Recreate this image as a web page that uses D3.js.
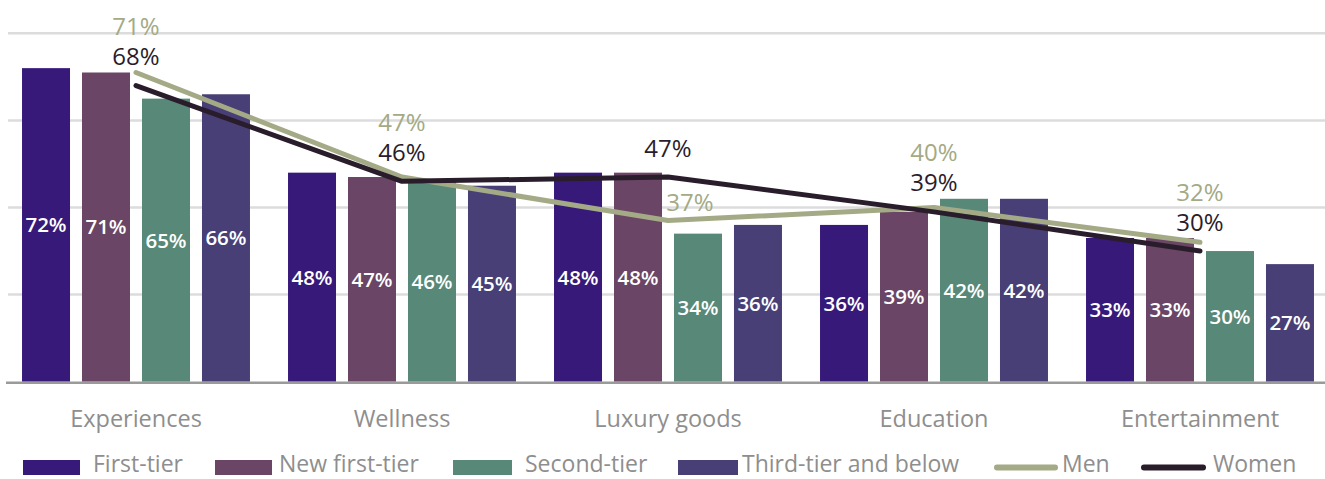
<!DOCTYPE html>
<html>
<head>
<meta charset="utf-8">
<script src="https://cdn.jsdelivr.net/npm/d3@7"></script>
<style>
  html, body { margin: 0; padding: 0; background: #ffffff; }
  svg { display: block; }
  text { font-family: "Open Sans", Lato, sans-serif; }
</style>
</head>
<body>
<svg id="chart" width="1325" height="479"></svg>
<script>
const categories = ["Experiences", "Wellness", "Luxury goods", "Education", "Entertainment"];
const seriesNames = ["First-tier", "New first-tier", "Second-tier", "Third-tier and below"];
const firstTier = [72, 48, 48, 36, 33];
const newFirstTier = [71, 47, 48, 39, 33];
const secondTier = [65, 46, 34, 42, 30];
const thirdTier = [66, 45, 36, 42, 27];
const men = [71, 47, 37, 40, 32];
const women = [68, 46, 47, 39, 30];
const yTicks = [0, 20, 40, 60, 80];

const barColors = ["#37197a", "#6a4565", "#578878", "#483f77"];
const menColor = "#a3aa85";
const womenColor = "#2a1d2b";
const textGray = "#8e8e8e";

const seriesValues = [firstTier, newFirstTier, secondTier, thirdTier];

const svg = d3.select("#chart");
const W = 1325, H = 479;

const x0 = d3.scaleBand().domain(categories).range([3, 1333])
  .paddingInner(0.143).paddingOuter(0.0715);
const x1 = d3.scaleBand().domain(seriesNames).range([0, x0.bandwidth()])
  .paddingInner(0.2).paddingOuter(0);
const y = d3.scaleLinear().domain([0, 80]).range([381.7, 33.3]);

// gridlines
svg.append("g").selectAll("line").data(yTicks.filter(d => d > 0)).join("line")
  .attr("x1", 8).attr("x2", W)
  .attr("y1", d => y(d)).attr("y2", d => y(d))
  .attr("stroke", "#dcdcdc").attr("stroke-width", 2.5);

// bars
const groups = svg.append("g").selectAll("g").data(categories).join("g")
  .attr("transform", d => `translate(${x0(d)},0)`);

groups.each(function(cat, ci) {
  const g = d3.select(this);
  seriesNames.forEach((s, si) => {
    const v = seriesValues[si][ci];
    g.append("rect")
      .attr("x", x1(s)).attr("width", x1.bandwidth())
      .attr("y", y(v)).attr("height", y(0) - y(v))
      .attr("fill", barColors[si]);
    g.append("text")
      .attr("x", x1(s) + x1.bandwidth() / 2)
      .attr("y", (y(v) + y(0)) / 2)
      .attr("dy", "0.36em")
      .attr("text-anchor", "middle")
      .attr("fill", "#ffffff")
      .attr("font-size", 20.5)
      .attr("font-weight", 600)
      .text(v + "%");
  });
});

// axis baseline
svg.append("line").attr("x1", 6).attr("x2", W)
  .attr("y1", y(0) + 1).attr("y2", y(0) + 1)
  .attr("stroke", "#9a9a9a").attr("stroke-width", 2.5);

// category labels
const xAxis = d3.axisBottom(x0).tickSize(0).tickPadding(0);
const ax = svg.append("g").attr("transform", `translate(0,${y(0)})`).call(xAxis);
ax.select(".domain").remove();
ax.selectAll("text")
  .attr("y", 45).attr("dy", 0)
  .attr("font-family", "'Open Sans', Lato, sans-serif")
  .attr("font-size", 23.5).attr("fill", textGray);

// lines
const cx = d => x0(d) + x0.bandwidth() / 2;
const line = d3.line().x((d, i) => cx(categories[i])).y(d => y(d));

svg.append("path").datum(men).attr("d", line)
  .attr("fill", "none").attr("stroke", menColor).attr("stroke-width", 5)
  .attr("stroke-linecap", "round").attr("stroke-linejoin", "round");
svg.append("path").datum(women).attr("d", line)
  .attr("fill", "none").attr("stroke", womenColor).attr("stroke-width", 5)
  .attr("stroke-linecap", "round").attr("stroke-linejoin", "round");

// line labels
categories.forEach((c, i) => {
  const wy = y(women[i]) - 29;
  let my, dx = 0;
  if (men[i] >= women[i]) {
    my = wy - 30;
  } else {
    my = y(men[i]) - 18;
    dx = 22;
  }
  svg.append("text").attr("x", cx(c)).attr("y", wy).attr("dy", "0.36em")
    .attr("text-anchor", "middle").attr("font-size", 24).attr("fill", womenColor)
    .text(women[i] + "%");
  svg.append("text").attr("x", cx(c) + dx).attr("y", my).attr("dy", "0.36em")
    .attr("text-anchor", "middle").attr("font-size", 24).attr("fill", menColor)
    .text(men[i] + "%");
});

// legend
const legendItems = [
  { name: seriesNames[0], type: "rect", color: barColors[0], x: 23, w: 57, tx: 93 },
  { name: seriesNames[1], type: "rect", color: barColors[1], x: 215, w: 57, tx: 279 },
  { name: seriesNames[2], type: "rect", color: barColors[2], x: 453, w: 59, tx: 525 },
  { name: seriesNames[3], type: "rect", color: barColors[3], x: 678, w: 60, tx: 742 },
  { name: "Men", type: "line", color: menColor, x: 997, w: 58, tx: 1062 },
  { name: "Women", type: "line", color: womenColor, x: 1144, w: 59, tx: 1213 }
];
const ly = 467.5;
const lg = svg.append("g");
legendItems.forEach(it => {
  if (it.type === "rect") {
    lg.append("rect").attr("x", it.x).attr("y", ly - 7.5).attr("width", it.w).attr("height", 15)
      .attr("fill", it.color);
  } else {
    lg.append("line").attr("x1", it.x).attr("x2", it.x + it.w).attr("y1", ly).attr("y2", ly)
      .attr("stroke", it.color).attr("stroke-width", 6).attr("stroke-linecap", "round");
  }
  lg.append("text").attr("x", it.tx).attr("y", 472)
    .attr("font-size", 23).attr("fill", textGray).text(it.name);
});
</script>
</body>
</html>
